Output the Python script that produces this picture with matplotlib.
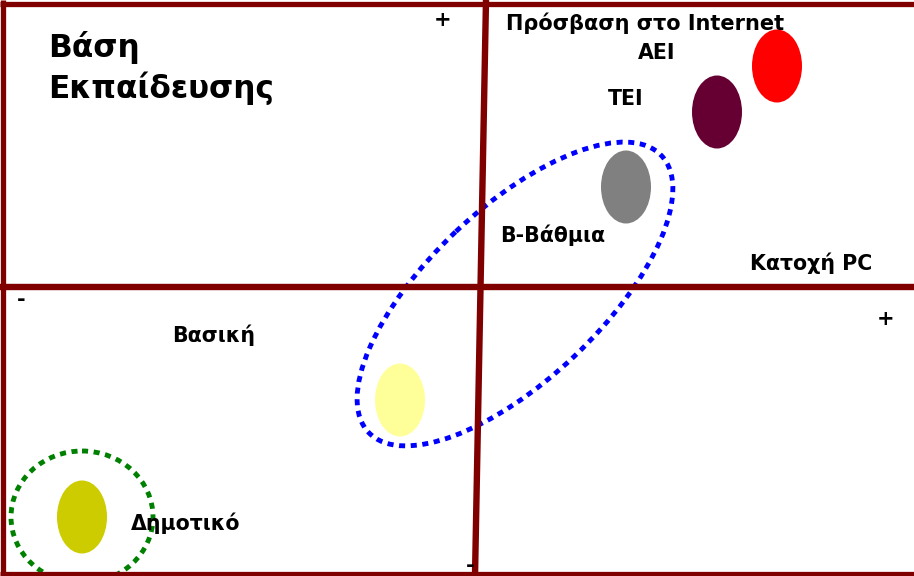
import matplotlib.pyplot as plt
from matplotlib.patches import Ellipse

plt.rcParams['font.family'] = ['DejaVu Sans']

# education levels placed on the PC ownership (x) / internet access (y) map, in picture pixels
levels = ['Δημοτικό', 'Βασική', 'Β-Βάθμια', 'ΤΕΙ', 'ΑΕΙ']
pc_x = [82, 400, 626, 717, 777]
net_y = [517, 400, 187, 112, 66]
level_colors = ['#CCCC00', '#FFFF99', '#808080', '#660033', '#FF0000']

# where each level's name is written
label_x = [186, 214, 553, 626, 657]
label_y = [523, 335, 235, 99, 53]

fig = plt.figure(figsize=(9.14, 5.76), dpi=100)
ax = fig.add_axes([0, 0, 1, 1])
ax.set_xlim(0, 914)
ax.set_ylim(576, 0)
ax.axis('off')

frame = '#800000'
# outer frame
ax.plot([0, 914], [4, 4], color=frame, lw=3.8, solid_capstyle='butt')
ax.plot([3, 3], [0, 576], color=frame, lw=3.8, solid_capstyle='butt')
ax.plot([0, 914], [574, 574], color=frame, lw=3.8, solid_capstyle='butt')
# the two axes of the map
ax.plot([0, 914], [287, 287], color=frame, lw=4.6, solid_capstyle='butt')
ax.plot([486, 475], [0, 576], color=frame, lw=4.6, solid_capstyle='butt')

# groups
ax.add_patch(Ellipse((515, 294), 403, 172, angle=-43.4, fill=False,
                     edgecolor='#0000FF', lw=3.5, linestyle=(0, (1.25, 1.15))))
ax.add_patch(Ellipse((82, 517), 142, 132, fill=False,
                     edgecolor='#008000', lw=3.5, linestyle=(0, (1.25, 1.15))))

for x, y, c in zip(pc_x, net_y, level_colors):
    ax.add_patch(Ellipse((x, y), 50, 73, facecolor=c, edgecolor='none'))

for name, x, y in zip(levels, label_x, label_y):
    ax.text(x, y, name, fontsize=14.8, fontweight='bold', ha='center', va='center')

ax.text(48, 31, 'Βάση\nΕκπαίδευσης', fontsize=22.4, fontweight='bold',
        ha='left', va='top', linespacing=1.3)
ax.text(645, 23, 'Πρόσβαση στο Internet', fontsize=15, fontweight='bold',
        ha='center', va='center')
ax.text(811, 263, 'Κατοχή PC', fontsize=14.8, fontweight='bold',
        ha='center', va='center')

# signs of the axes
ax.text(443, 20, '+', fontsize=15, fontweight='bold', ha='center', va='center')
ax.text(886, 319, '+', fontsize=15, fontweight='bold', ha='center', va='center')
ax.text(21, 300, '-', fontsize=15, fontweight='bold', ha='center', va='center')
ax.text(470, 566, '-', fontsize=15, fontweight='bold', ha='center', va='center')

fig.savefig('out.png', dpi=100)
